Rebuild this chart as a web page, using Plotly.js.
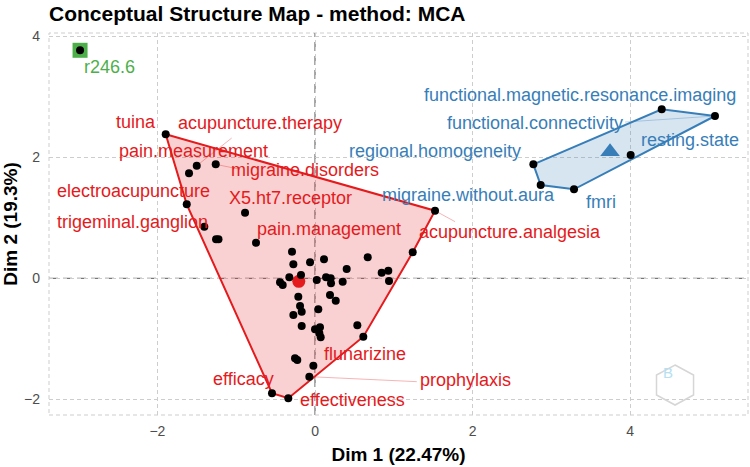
<!DOCTYPE html>
<html><head><meta charset="utf-8">
<script src="https://cdn.plot.ly/plotly-3.0.1.min.js"></script>
<style>html,body{margin:0;padding:0;background:#fff}#chart{width:750px;height:467px}</style>
</head><body><div id="chart"></div>
<script>
// ---------------- DATA ----------------
// Cluster 1 (red): labelled terms first, unlabelled terms as ""
const redTerms = ["tuina","acupuncture.therapy","pain.measurement","migraine.disorders","electroacupuncture",
  "X5.ht7.receptor","trigeminal.ganglion","pain.management","acupuncture.analgesia","flunarizine",
  "prophylaxis","efficacy","effectiveness",
  "","","","","","","","","","","","","","","","","","","","","","","","","","","","","","","","","","","","",""];
const redDim1 = [-1.895,-1.501,-1.599,-1.260,-1.628,-0.888,-1.405,-0.749,1.523,0.613,-0.072,-0.546,-0.339,
  -1.256,-1.225,-0.292,-0.275,-0.063,0.114,0.669,0.402,-0.326,-0.178,-0.444,-0.410,0.022,0.140,0.199,0.203,0.351,
  0.190,0.263,-0.212,-0.190,-0.169,-0.275,0.042,-0.169,0.000,0.063,0.055,0.072,0.537,-0.254,-0.225,-0.021,
  1.240,0.846,0.930,0.939];
const redDim2 = [2.380,1.861,1.736,1.884,1.223,1.084,0.853,0.588,1.117,-0.965,-1.626,-1.901,-1.983,
  0.645,0.645,0.440,0.231,0.264,0.314,0.347,0.154,0.017,0.055,-0.066,-0.111,-0.028,0.017,0.000,-0.083,-0.056,
  -0.276,-0.370,-0.304,-0.458,-0.552,-0.607,-0.512,-0.788,-0.843,-0.810,-0.909,-0.975,-0.777,-1.322,-1.350,-1.445,
  0.430,0.093,0.126,-0.045];
const redCentroid = [-0.206, -0.050];

// Cluster 2 (blue)
const blueTerms = ["regional.homogeneity","migraine.without.aura","fmri","resting.state",
  "functional.magnetic.resonance.imaging","functional.connectivity"];
const blueDim1 = [2.771,2.864,3.287,4.006,4.400,5.076];
const blueDim2 = [1.884,1.542,1.471,2.038,2.793,2.683];
const blueCentroid = [3.744, 2.093];

// Cluster 3 (green)
const greenTerms = ["r246.6"];
const greenDim1 = [-2.982];
const greenDim2 = [3.769];

const tickVals = [-2, 0, 2, 4];

// ---------------- LAYOUT HELPERS (label placement, repel-style) ----------------
const labelPos = {
  "r246.6":[-2.612,3.491], "tuina":[-2.274,2.592], "acupuncture.therapy":[-0.698,2.565],
  "pain.measurement":[-1.544,2.112], "migraine.disorders":[-0.133,1.798], "electroacupuncture":[-2.299,1.451],
  "X5.ht7.receptor":[-0.311,1.331], "trigeminal.ganglion":[-2.320,0.929], "pain.management":[0.178,0.818],
  "acupuncture.analgesia":[2.475,0.764], "migraine.without.aura":[1.954,1.385], "flunarizine":[0.635,-1.248],
  "effectiveness":[0.478,-2.020], "prophylaxis":[1.916,-1.689], "efficacy":[-0.910,-1.661],
  "functional.magnetic.resonance.imaging":[3.369,3.033], "functional.connectivity":[2.798,2.565],
  "resting.state":[4.753,2.278], "regional.homogeneity":[1.523,2.099], "fmri":[3.629,1.260]
};
const segEnd = {
  "acupuncture.therapy":[-1.057,2.319], "migraine.disorders":[-0.952,1.802],
  "acupuncture.analgesia":[1.777,0.936], "prophylaxis":[1.291,-1.709],
  "functional.connectivity":[3.934,2.583]
};

const FONT = "Liberation Sans, Arial, Helvetica, sans-serif";
const RED = "#e41a1c", BLUE = "#377eb8", GREEN = "#4daf4a";

function hull(xs, ys) {
  const p = xs.map((x,i)=>[x,ys[i]]).sort((a,b)=>a[0]-b[0]||a[1]-b[1]);
  const cross=(o,a,b)=>(a[0]-o[0])*(b[1]-o[1])-(a[1]-o[1])*(b[0]-o[0]);
  const lo=[],up=[];
  for(const q of p){while(lo.length>=2&&cross(lo[lo.length-2],lo[lo.length-1],q)<=0)lo.pop();lo.push(q);}
  for(let i=p.length-1;i>=0;i--){const q=p[i];while(up.length>=2&&cross(up[up.length-2],up[up.length-1],q)<=0)up.pop();up.push(q);}
  const h=lo.slice(0,-1).concat(up.slice(0,-1)); h.push(h[0]);
  return {x:h.map(v=>v[0]), y:h.map(v=>v[1])};
}

function segTrace(terms, xs, ys, color) {
  const sx=[], sy=[];
  terms.forEach((t,i)=>{ if(segEnd[t]){ sx.push(xs[i],segEnd[t][0],null); sy.push(ys[i],segEnd[t][1],null);} });
  return {type:"scatter",mode:"lines",x:sx,y:sy,line:{color:color,width:0.6},hoverinfo:"skip",showlegend:false};
}

const hr = hull(redDim1, redDim2), hb = hull(blueDim1, blueDim2);

const traces = [
  {type:"scatter",mode:"lines",x:hr.x,y:hr.y,fill:"toself",fillcolor:"rgba(228,26,28,0.2)",
   line:{color:RED,width:2},hoverinfo:"skip",showlegend:false},
  {type:"scatter",mode:"lines",x:hb.x,y:hb.y,fill:"toself",fillcolor:"rgba(55,126,184,0.2)",
   line:{color:BLUE,width:2},hoverinfo:"skip",showlegend:false},
  segTrace(redTerms, redDim1, redDim2, "rgba(228,26,28,0.55)"),
  segTrace(blueTerms, blueDim1, blueDim2, "rgba(55,126,184,0.55)"),
  {type:"scatter",mode:"markers",x:greenDim1,y:greenDim2,marker:{symbol:"square",size:15,color:GREEN},showlegend:false},
  {type:"scatter",mode:"markers",x:[redCentroid[0]],y:[redCentroid[1]],marker:{symbol:"circle",size:13,color:RED},showlegend:false},
  {type:"scatter",mode:"markers",x:[blueCentroid[0]],y:[blueCentroid[1]],marker:{symbol:"triangle-up",size:17,color:BLUE},showlegend:false},
  {type:"scatter",mode:"markers",x:redDim1.concat(blueDim1,greenDim1),y:redDim2.concat(blueDim2,greenDim2),
   marker:{size:8,color:"#000"},showlegend:false}
];

const annotations = [];
function addLabels(terms, color){
  terms.forEach(t=>{ if(t && labelPos[t]) annotations.push({x:labelPos[t][0],y:labelPos[t][1],xref:"x",yref:"y",
    text:t,showarrow:false,xanchor:"center",yanchor:"middle",font:{family:FONT,size:18,color:color}}); });
}
addLabels(redTerms, RED); addLabels(blueTerms, BLUE); addLabels(greenTerms, GREEN);

// watermark hexagon
const cx=0.8956, cy=0.0785, w2=0.0265, h2=0.0524, h4=0.0262;
const hexPath=`M ${cx},${cy+h2} L ${cx+w2},${cy+h4} L ${cx+w2},${cy-h4} L ${cx},${cy-h2} L ${cx-w2},${cy-h4} L ${cx-w2},${cy+h4} Z`;
annotations.push({x:cx,y:cy+0.005,xref:"paper",yref:"paper",text:"B",showarrow:false,font:{family:FONT,size:15,color:"#b5e0f2"}});

const axisCommon = {tickvals:tickVals, showgrid:true, gridcolor:"#cdcdcd", griddash:"4px,3px", gridwidth:1,
  zeroline:false, showline:false, ticks:"", tickfont:{family:FONT,size:14,color:"#4d4d4d"}};

const layout = {
  width:750, height:467,
  margin:{l:49,r:2,t:33,b:52},
  paper_bgcolor:"#fff", plot_bgcolor:"#fff",
  title:{text:"<b>Conceptual Structure Map - method: MCA</b>", font:{family:FONT,size:21,color:"#000"},
    x:49/750, xanchor:"left", xref:"container", y:1-14/467, yanchor:"middle", yref:"container"},
  xaxis:Object.assign({}, axisCommon, {range:[-3.376,5.495], ticklabelstandoff:6,
    title:{text:"<b>Dim 1 (22.47%)</b>", font:{family:FONT,size:19,color:"#000"}, standoff:9}}),
  yaxis:Object.assign({}, axisCommon, {range:[-2.260,4.055], ticklabelstandoff:8,
    title:{text:"<b>Dim 2 (19.3%)</b>", font:{family:FONT,size:19,color:"#000"}, standoff:10}}),
  shapes:[
    {type:"rect",xref:"x domain",yref:"y domain",x0:0,x1:1,y0:0,y1:1,line:{color:"#cdcdcd",width:1,dash:"4px,3px"},layer:"below"},
    {type:"line",xref:"x",yref:"y domain",x0:0,x1:0,y0:0,y1:1,line:{color:"#777",width:1.3,dash:"9px,5px"},layer:"below"},
    {type:"line",xref:"x domain",yref:"y",x0:0,x1:1,y0:0,y1:0,line:{color:"#777",width:1.3,dash:"9px,5px"},layer:"below"},
    {type:"path",xref:"paper",yref:"paper",path:hexPath,line:{color:"#d6d6d6",width:1.5},layer:"above"}
  ],
  annotations:annotations,
  showlegend:false
};

Plotly.newPlot("chart", traces, layout, {displayModeBar:false, staticPlot:true});
</script>
</body></html>
